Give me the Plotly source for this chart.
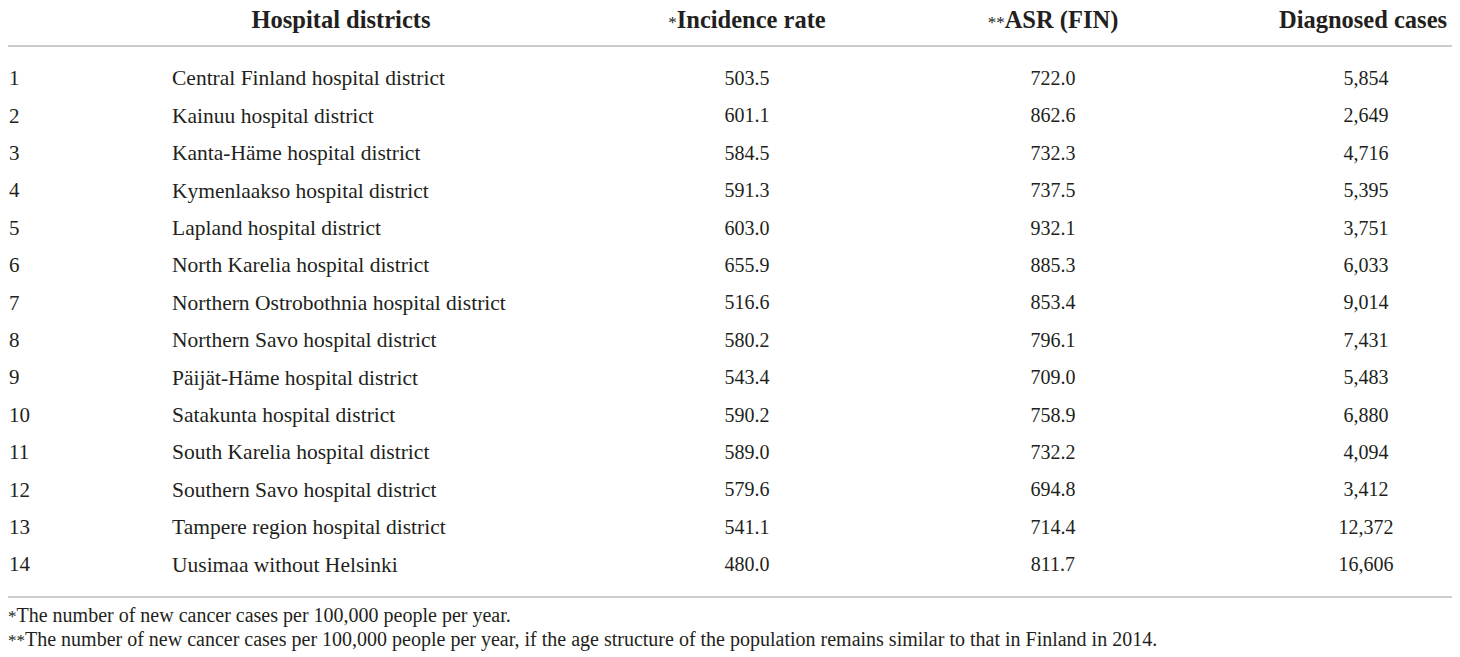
import plotly.graph_objects as go

# table contents
row_ids = [str(i) for i in range(1, 15)]
districts = [
    "Central Finland hospital district",
    "Kainuu hospital district",
    "Kanta-Häme hospital district",
    "Kymenlaakso hospital district",
    "Lapland hospital district",
    "North Karelia hospital district",
    "Northern Ostrobothnia hospital district",
    "Northern Savo hospital district",
    "Päijät-Häme hospital district",
    "Satakunta hospital district",
    "South Karelia hospital district",
    "Southern Savo hospital district",
    "Tampere region hospital district",
    "Uusimaa without Helsinki",
]
incidence_rate = [503.5, 601.1, 584.5, 591.3, 603.0, 655.9, 516.6,
                  580.2, 543.4, 590.2, 589.0, 579.6, 541.1, 480.0]
asr_fin = [722.0, 862.6, 732.3, 737.5, 932.1, 885.3, 853.4,
           796.1, 709.0, 758.9, 732.2, 694.8, 714.4, 811.7]
diagnosed_cases = [5854, 2649, 4716, 5395, 3751, 6033, 9014,
                   7431, 5483, 6880, 4094, 3412, 12372, 16606]

STAR = '<span style="font-size:17px">{}</span>'
headers = ["<b>Hospital districts</b>",
           STAR.format("*") + "<b>Incidence rate</b>",
           STAR.format("**") + "<b>ASR (FIN)</b>",
           "<b>Diagnosed cases</b>"]
footnotes = [
    STAR.format("*") + "The number of new cancer cases per 100,000 people per year.",
    STAR.format("**") + "The number of new cancer cases per 100,000 people per year, "
    "if the age structure of the population remains similar to that in Finland in 2014.",
]

# the page body keeps an 8px margin, so the figure is shrunk to sit inside it
# and the axes are offset so coordinates stay in page pixels
W, H = 1460, 657
PAD = 8
FONT = "Liberation Serif"
INK = "#231f20"
RULE = "#cccccc"

# table geometry (page pixels)
first_row_y = 80
row_h = 37.4
header_y = 22
col_x = {"id": 9, "name": 172, "inc": 747, "asr": 1053, "cases": 1366,
         "hdr_name": 341, "hdr_cases": 1363}
ys = [first_row_y + i * row_h for i in range(len(districts))]

fig = go.Figure()

def text_col(x, y, txt, pos, size=21, color=INK):
    fig.add_trace(go.Scatter(
        x=x, y=y, text=txt, mode="text", textposition=pos,
        textfont=dict(family=FONT, size=size, color=color),
        hoverinfo="skip", showlegend=False, cliponaxis=False,
    ))

n = len(districts)
text_col([col_x["id"]] * n, ys, row_ids, "middle right")
text_col([col_x["name"]] * n, ys, districts, "middle right", size=21.5)
text_col([col_x["inc"]] * n, ys, [f"{v:.1f}" for v in incidence_rate], "middle center", size=20)
text_col([col_x["asr"]] * n, ys, [f"{v:.1f}" for v in asr_fin], "middle center", size=20)
text_col([col_x["cases"]] * n, ys, [f"{v:,}" for v in diagnosed_cases], "middle center", size=20)

# header row
text_col([col_x["hdr_name"], col_x["inc"], col_x["asr"], col_x["hdr_cases"]],
         [header_y] * 4, headers, "middle center", size=24.5)

# footnotes
text_col([PAD, PAD], [617, 641], footnotes, "middle right", size=20)

# rules under header and under the body
for y in (46, 597):
    fig.add_shape(type="line", x0=PAD, x1=W - PAD, y0=y, y1=y, xref="x", yref="y",
                  line=dict(color=RULE, width=2))

fig.update_xaxes(range=[PAD, W - PAD], visible=False, fixedrange=True)
fig.update_yaxes(range=[H, PAD], visible=False, fixedrange=True)
fig.update_layout(
    width=W - 2 * PAD, height=H - PAD,
    margin=dict(l=0, r=0, t=0, b=0),
    paper_bgcolor="white", plot_bgcolor="white",
)

fig.write_html("out.html")
